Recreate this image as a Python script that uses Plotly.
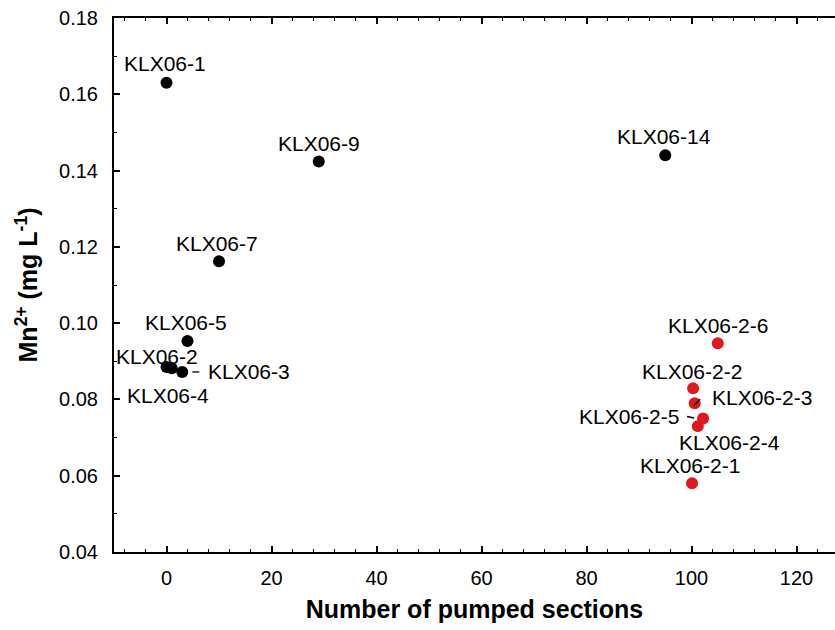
import plotly.graph_objects as go

# Borehole sections: number of pumped sections vs. dissolved manganese
black_names = ["KLX06-1", "KLX06-9", "KLX06-14", "KLX06-7", "KLX06-5",
               "KLX06-2", "KLX06-4", "KLX06-3"]
black_x = [0, 29, 95, 10, 4, 0, 1, 3]
black_y = [0.163, 0.1424, 0.144, 0.1162, 0.0953, 0.0885, 0.0882, 0.0872]

red_names = ["KLX06-2-6", "KLX06-2-2", "KLX06-2-3", "KLX06-2-5",
             "KLX06-2-4", "KLX06-2-1"]
red_x = [105, 100.3, 100.6, 102.2, 101.2, 100.1]
red_y = [0.0947, 0.0829, 0.0790, 0.0750, 0.0730, 0.0580]

x_ticks = [0, 20, 40, 60, 80, 100, 120]
y_ticks = [0.04, 0.06, 0.08, 0.10, 0.12, 0.14, 0.16, 0.18]

# label placement in pixels relative to each marker: (dx, dy), dy up
label_offset = {
    "KLX06-1": (-2, 19), "KLX06-9": (0, 18), "KLX06-14": (-1, 19),
    "KLX06-7": (-2, 18), "KLX06-5": (-2, 19), "KLX06-2": (-10, 11),
    "KLX06-4": (-4, -27), "KLX06-3": (67, 0),
    "KLX06-2-6": (0, 18), "KLX06-2-2": (-1, 17), "KLX06-2-3": (67, 6),
    "KLX06-2-5": (-74, 2), "KLX06-2-4": (32, -16), "KLX06-2-1": (-2, 18),
}
# short leader strokes anchored at a marker, in pixels: (x0, y0, x1, y1), y up
leaders = {
    "KLX06-3": (10, 0, 17, 0),
    "KLX06-2-3": (-1, -2.5, 5.5, 4),
    "KLX06-2-5": (-16, 2, -9, 0.5),
}

FONT = "Arial, Liberation Sans, Helvetica, sans-serif"

fig = go.Figure()
fig.add_trace(go.Scatter(x=black_x, y=black_y, mode="markers",
                         marker=dict(size=12, color="black"),
                         hoverinfo="text", text=black_names))
fig.add_trace(go.Scatter(x=red_x, y=red_y, mode="markers",
                         marker=dict(size=12, color="#e2171c"),
                         hoverinfo="text", text=red_names))

annotations = []
shapes = []
for names, xs, ys in ((black_names, black_x, black_y), (red_names, red_x, red_y)):
    for n, xv, yv in zip(names, xs, ys):
        dx, dy = label_offset[n]
        annotations.append(dict(x=xv, y=yv, xref="x", yref="y", text=n,
                                showarrow=False, xshift=dx, yshift=dy,
                                font=dict(family=FONT, size=21, color="black")))
        if n in leaders:
            x0, y0, x1, y1 = leaders[n]
            shapes.append(dict(type="line", xref="x", yref="y",
                               xsizemode="pixel", ysizemode="pixel",
                               xanchor=xv, yanchor=yv,
                               x0=x0, y0=y0, x1=x1, y1=y1,
                               line=dict(color="black", width=1.3),
                               layer="above"))

fig.update_layout(
    width=835, height=630,
    margin=dict(l=114, r=0, t=18, b=78),
    paper_bgcolor="white", plot_bgcolor="white",
    showlegend=False,
    font=dict(family=FONT, size=20, color="black"),
    annotations=annotations,
    shapes=shapes,
)
fig.update_xaxes(
    range=[-10, 127.33], tickvals=x_ticks, ticks="inside", ticklen=6,
    tickwidth=1.5, tickcolor="black", showline=True, linecolor="black",
    linewidth=2, mirror="ticks", showgrid=False, zeroline=False,
    ticklabelstandoff=7,
    minor=dict(dtick=4, tick0=0, ticks="inside", ticklen=3, tickwidth=1.2,
               tickcolor="black", showgrid=False),
    title=dict(text="<b>Number of pumped sections</b>",
               font=dict(family=FONT, size=25), standoff=12),
    tickfont=dict(size=20),
)
fig.update_yaxes(
    range=[0.04, 0.18], tickvals=y_ticks, tickformat=".2f", ticks="inside",
    ticklen=6, tickwidth=1.5, tickcolor="black", showline=True,
    linecolor="black", linewidth=2, mirror=False, showgrid=False,
    zeroline=False, ticklabelstandoff=10,
    minor=dict(dtick=0.01, tick0=0.04, ticks="inside", ticklen=3,
               tickwidth=1.2, tickcolor="black", showgrid=False),
    title=dict(text="<b>Mn<sup>2+</sup> (mg L<sup>-1</sup>)</b>",
               font=dict(family=FONT, size=25), standoff=14),
    tickfont=dict(size=20),
)

fig.write_html("out.html")
